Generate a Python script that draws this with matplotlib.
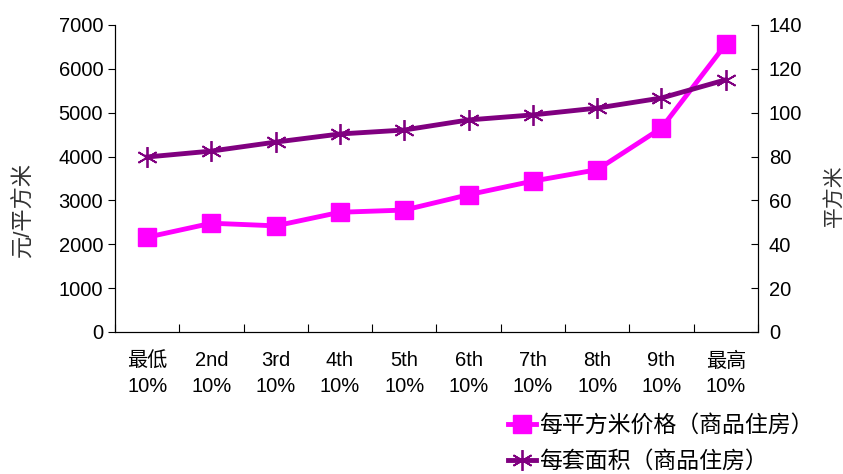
import numpy as np
import matplotlib.pyplot as plt
from matplotlib.lines import Line2D

plt.rcParams['font.family'] = ['Liberation Sans', 'Noto Sans CJK SC', 'DejaVu Sans']

categories = ['最低\n10%', '2nd\n10%', '3rd\n10%', '4th\n10%', '5th\n10%',
              '6th\n10%', '7th\n10%', '8th\n10%', '9th\n10%', '最高\n10%']
price = [2160, 2480, 2420, 2730, 2780, 3130, 3440, 3700, 4650, 6560]
area = [79.8, 82.5, 86.6, 90.3, 92.1, 96.7, 99.0, 102.1, 106.7, 115.0]

pink = '#FF00FF'
purple = '#800080'

fig = plt.figure(figsize=(8.43, 4.74), dpi=100)
ax = fig.add_axes([0.1364, 0.2996, 0.7626, 0.6477])
ax2 = ax.twinx()

x = np.arange(len(categories))
ax.plot(x, price, color=pink, lw=3.5, marker='s', ms=13, zorder=3)
ax2.plot(x, area, color=purple, lw=3.5, marker=(6, 2, 0), ms=15, mew=1.3, zorder=3)

ax.set_xlim(-0.5, len(categories) - 0.5)
ax.set_ylim(0, 7000)
ax.set_yticks(range(0, 7001, 1000))
ax2.set_ylim(0, 140)
ax2.set_yticks(range(0, 141, 20))

ax.set_xticks(np.arange(-0.5, len(categories), 1))
ax.set_xticklabels([])
ax.set_xticks(x, minor=True)
ax.set_xticklabels(categories, minor=True, fontsize=14.5, linespacing=1.45)
ax.tick_params(axis='x', which='major', direction='in', length=6)
ax.tick_params(axis='x', which='minor', length=0, pad=14)
ax.tick_params(axis='y', direction='out', length=5, labelsize=14.5)
ax2.tick_params(axis='y', direction='in', length=5, labelsize=14.5, pad=8)

for a in (ax, ax2):
    a.spines['top'].set_visible(False)

ax.set_ylabel('元/平方米', fontsize=16, color='#333333')
ax.yaxis.set_label_coords(-0.125, 0.40)
ax2.set_ylabel('平方米', fontsize=15, color='#333333')
ax2.yaxis.set_label_coords(1.102, 0.445)

handles = [Line2D([], [], color=pink, lw=3.5, marker='s', ms=13),
           Line2D([], [], color=purple, lw=3.5, marker=(6, 2, 0), ms=15, mew=1.3)]
labels = ['每平方米价格（商品住房）', '每套面积（商品住房）']
fig.legend(handles, labels, loc='upper left', bbox_to_anchor=(0.592, 0.146),
           frameon=False, fontsize=16.5, handlelength=1.2, handletextpad=0.15,
           labelspacing=0.55, borderaxespad=0)

fig.savefig('out.png', dpi=100)
